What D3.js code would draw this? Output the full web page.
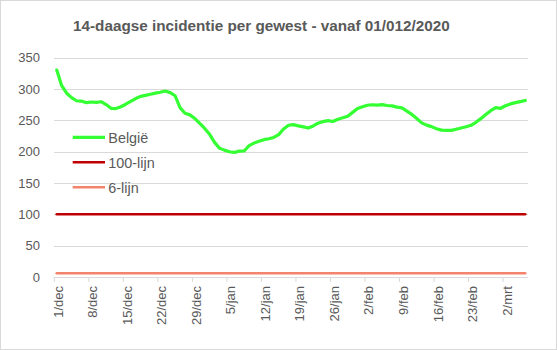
<!DOCTYPE html>
<html>
<head>
<meta charset="utf-8">
<script src="https://cdn.jsdelivr.net/npm/d3@7"></script>
<style>
  html, body { margin: 0; padding: 0; background: #fff; }
  svg { display: block; font-family: "Liberation Sans", Arial, sans-serif; }
</style>
</head>
<body>
<svg id="chart" width="557" height="350"></svg>
<script>
// ---------- data ----------
const title = "14-daagse incidentie per gewest - vanaf 01/012/2020";
const startDate = new Date(2020, 11, 1);
const monthNames = ["jan","feb","mrt","apr","mei","jun","jul","aug","sep","okt","nov","dec"];
const belgie = [
  330, 305, 293, 286, 281, 280.5, 278, 279, 278.5, 279.5,
  275, 269, 268.5, 271.5, 275.5, 280, 284.5, 288, 289.7, 291.4,
  293.2, 294.6, 296.5, 294, 289, 270, 261, 258.5, 252.6, 244.8,
  236.8, 227.5, 214.7, 205.3, 202.3, 199.7, 198.6, 200.7, 200.9, 209.5,
  213.5, 216.3, 219, 220.4, 222.5, 227, 236, 242, 243, 241,
  239.3, 237.5, 240.8, 245.3, 247.8, 249.3, 248, 251.6, 253.8, 256.4,
  262.5, 268.6, 271.5, 273.9, 274.7, 274.2, 274.8, 273.5, 272.8, 270.9,
  269.6, 264.5, 259.2, 252.6, 245.8, 242.2, 239.8, 236.5, 234.2, 233.8,
  233.8, 235.6, 237.5, 239.5, 241.9, 246.7, 252.5, 259, 265.2, 270,
  269, 273, 276, 278, 279.7, 281.5
];
const lijn100 = belgie.map(() => 100);
const lijn6 = belgie.map(() => 6);
const categories = belgie.map((_, i) => d3.timeDay.offset(startDate, i));
const fmt = d => `${d.getDate()}/${monthNames[d.getMonth()]}`;
const tickLabels = ["1/dec","8/dec","15/dec","22/dec","29/dec","5/jan","12/jan","19/jan","26/jan","2/feb","9/feb","16/feb","23/feb","2/mrt"];
const yTicks = [0, 50, 100, 150, 200, 250, 300, 350];
const seriesNames = ["België", "100-lijn", "6-lijn"];
const seriesColors = ["#33ff33", "#c00000", "#f4836b"];
const seriesWidths = [3.2, 2.6, 2.6];

// ---------- layout ----------
const svg = d3.select("#chart");
const plot = { left: 54.3, right: 527.7, top: 57.5, bottom: 277 };
const textColor = "#595959";
const gridColor = "#d9d9d9";

svg.append("rect").attr("x", 0.5).attr("y", 0.5).attr("width", 556).attr("height", 349)
  .attr("fill", "#fff").attr("stroke", gridColor);

const labels = categories.map(fmt);
const x = d3.scaleBand().domain(labels).range([plot.left, plot.right]).padding(0);
const cx = l => x(l) + x.bandwidth() / 2;
const y = d3.scaleLinear().domain([0, 350]).range([plot.bottom, plot.top]);

// title
const t = svg.append("text").attr("x", 261.4).attr("y", 30.5)
  .attr("text-anchor", "middle").attr("font-weight", "bold")
  .attr("font-size", 16).attr("fill", textColor).text(title);
const tl = t.node().getComputedTextLength();
t.attr("font-size", 16 * 377 / tl);

// gridlines + y labels
const yAxis = d3.axisLeft(y).tickValues(yTicks).tickSize(-(plot.right - plot.left)).tickPadding(14);
const gy = svg.append("g").attr("transform", `translate(${plot.left},0)`).call(yAxis);
gy.select(".domain").remove();
gy.selectAll(".tick line").attr("stroke", gridColor).attr("stroke-width", 1)
  .attr("shape-rendering", "crispEdges");
gy.selectAll(".tick text").attr("fill", textColor).attr("font-size", 13)
  .attr("font-family", "Liberation Sans, Arial, sans-serif").attr("x", 40 - plot.left);

// x axis
const xAxis = d3.axisBottom(x).tickValues(tickLabels).tickSize(0).tickPadding(0);
const gx = svg.append("g").attr("transform", `translate(0,${plot.bottom})`).call(xAxis);
gx.select(".domain").attr("stroke", gridColor).attr("d", `M${plot.left},0H${plot.right}`)
  .attr("shape-rendering", "crispEdges");
gx.selectAll(".tick").each(function(l) {
  const g = d3.select(this);
  g.select("line").attr("x1", -x.bandwidth() / 2).attr("x2", -x.bandwidth() / 2)
    .attr("y1", 0).attr("y2", 5).attr("stroke", gridColor).attr("stroke-width", 1);
  g.select("text").attr("fill", textColor).attr("font-size", 13)
    .attr("font-family", "Liberation Sans, Arial, sans-serif")
    .attr("text-anchor", "end").attr("dy", "0.35em")
    .attr("transform", "translate(1.5,9) rotate(-90)").attr("y", 0).attr("x", 0);
});

// lines
const allSeries = [belgie, lijn100, lijn6];
const lineGen = d3.line().x((d, i) => cx(labels[i])).y(d => y(d));
[2, 1, 0].forEach(k => {
  svg.append("path").datum(allSeries[k]).attr("fill", "none")
    .attr("stroke", seriesColors[k]).attr("stroke-width", seriesWidths[k])
    .attr("stroke-linejoin", "round").attr("stroke-linecap", "round")
    .attr("d", lineGen);
});

// legend
const leg = svg.append("g");
seriesNames.forEach((n, k) => {
  const ly = 137.3 + k * 25;
  leg.append("line").attr("x1", 72.7).attr("x2", 105).attr("y1", ly).attr("y2", ly)
    .attr("stroke", seriesColors[k]).attr("stroke-width", seriesWidths[k]);
  leg.append("text").attr("x", 108.3).attr("y", ly + 5.2).attr("font-size", 14.4)
    .attr("fill", textColor).text(n);
});
</script>
</body>
</html>
